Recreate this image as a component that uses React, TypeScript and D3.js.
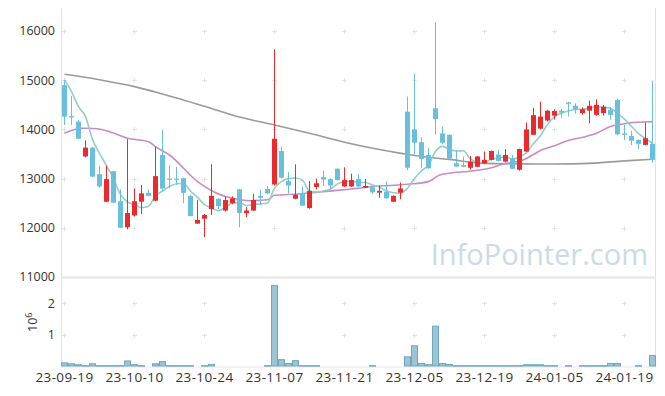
import React from 'react';
import * as d3 from 'd3';

const W = 665;
const H = 396;

const opens = [14900,14270,14160,13450,13630,13090,12530,13150,12540,12010,12250,12530,12710,12550,13480,13000,13000,13010,12650,12085,12185,12380,12590,12350,12500,12780,12295,12350,12650,12790,12880,13560,12950,12590,12690,12400,12830,13030,12990,13200,12840,12840,12990,12815,12820,12715,12735,12530,12715,14360,14000,13740,13480,14430,13920,13890,13310,13275,13220,13240,13310,13380,13490,13345,13410,13180,13550,13890,14015,14180,14280,14380,14550,14480,14330,14380,14295,14330,14395,14600,13920,13865,13785,13685,13705];
const highs = [15000,14680,14190,13780,13640,13260,13260,13160,12780,13800,12800,12870,12780,13650,13990,13270,13240,13020,12660,12565,12280,13290,12600,12630,12640,12790,12420,12690,12770,12850,15630,13650,13130,13290,12840,12950,13000,13160,13010,13210,13230,13100,13090,12990,12840,12860,12940,12660,12920,14670,15140,13840,13620,16180,14060,13900,13580,13450,13460,13460,13550,13570,13580,13600,13480,13610,14140,14440,14560,14400,14410,14410,14560,14530,14450,14585,14610,14500,14460,14620,14090,13975,13800,14140,14990];
const lows = [14090,14090,13800,13430,13030,12815,12520,12500,12000,11970,12230,12280,12640,12540,12730,12800,12870,12500,12230,12080,11810,12260,12380,12330,12480,12010,12215,12340,12460,12680,12860,13000,12700,12580,12440,12390,12780,12850,12780,12960,12830,12830,12830,12810,12690,12610,12590,12520,12580,13170,13480,13210,13200,13900,13700,13400,13240,13230,13180,13230,13300,13370,13350,13330,13190,13160,13540,13880,14000,14160,14200,14240,14260,14320,14300,14125,14280,14280,14200,13880,13785,13680,13600,13680,13320];
const closes = [14260,14243,13810,13630,13040,12840,12990,12510,12000,12300,12540,12700,12650,13050,12800,12990,12985,12710,12240,12160,12260,12650,12440,12565,12600,12300,12350,12565,12610,12700,13810,13020,12860,12670,12450,12750,12905,12980,12860,12970,12970,12970,12840,12850,12720,12750,12600,12650,12800,13220,13730,13400,13210,14210,13730,13410,13245,13240,13345,13450,13380,13560,13360,13480,13200,13600,14000,14290,14260,14380,14375,14340,14520,14410,14410,14480,14500,14460,14295,13900,13890,13770,13705,13820,13380];
const volumes = [100000,70000,40000,10000,70000,10000,10000,10000,10000,160000,40000,10000,0,70000,140000,10000,10000,10000,10000,0,10000,50000,0,0,0,0,0,0,0,10000,2550000,200000,80000,170000,10000,10000,10000,0,0,0,0,0,0,0,10000,0,0,0,0,290000,640000,80000,40000,1260000,80000,50000,10000,10000,10000,10000,10000,10000,10000,10000,10000,10000,40000,40000,40000,10000,10000,0,10000,0,10000,10000,10000,10000,80000,80000,0,0,10000,0,330000];

// closes before the first visible session (for the 5-day average)
const prevCloses = [15430, 15340, 14650, 15350];

// 20-day average (session index, value)
const ma20Idx = [0,2.5,3.5,6,9,12,13,15,19,21.5,24,26.5,29,30,33.5,38.5,42,44,49,52,53.6,58.4,61,62.2,65.5,68.4,70.3,72.2,74.1,76,77.9,79.8,81.7,84];
const ma20Val = [13921,14023,14023,13974,13820,13751,13650,13480,12938,12718,12600,12551,12570,12660,12687,12755,12803,12836,12884,12938,13074,13161,13220,13277,13379,13596,13684,13785,13840,13921,14056,14110,14145,14157];

// long-period average
const maLongIdx = [0,5,10,14,20,25,30,35,40,45,50,55,60,65,70,75,80,84];
const maLongVal = [15121,15010,14869,14720,14470,14250,14090,13920,13740,13590,13470,13390,13310,13300,13297,13310,13360,13393];

const xTickIdx = [0,10,20,30,40,50,60,70,80];
const xTickLabels = ['23-09-19','23-10-10','23-10-24','23-11-07','23-11-21','23-12-05','23-12-19','24-01-05','24-01-19'];
const priceTicks = [11000,12000,13000,14000,15000,16000];
const volTicks = [1,2];

const UP = '#ec2a2e';
const DOWN = '#68c0dc';
const FONT = "'Open Sans', 'Noto Sans', sans-serif";

export default function App() {
  const n = closes.length;
  const x = d3.scaleLinear().domain([-0.5, n - 0.5]).range([61, 656]);
  const y = d3.scaleLinear().domain([11000, 16000]).range([277, 31]);
  const yv = d3.scaleLinear().domain([0, 2e6]).range([366.5, 303.3]);

  const all = prevCloses.concat(closes);
  const ma5 = closes.map((_, i) => [i, d3.mean(all.slice(i, i + 5)) as number]);
  const ma20 = ma20Idx.map((d, i) => [d, ma20Val[i]]);
  const maLong = maLongIdx.map((d, i) => [d, maLongVal[i]]);

  const line = d3.line<number[]>().x(d => x(d[0])).y(d => y(d[1])).curve(d3.curveMonotoneX);

  const crossX = xTickIdx.map(i => x(i));
  const crossY = priceTicks.filter(t => t > 11000).map(t => y(t)).concat(volTicks.map(t => yv(t * 1e6)));

  return (
    <svg width={W} height={H} style={{ position: 'absolute', left: 0, top: 0, background: '#fff' }} fontFamily={FONT}>
      <rect x={0} y={0} width={W} height={H} fill="#fff" />
      {/* cross marks */}
      {crossX.map(cx => crossY.map(cy => (
        <g key={`c${cx}-${cy}`} stroke="#e2e2e2" strokeWidth={1}>
          <line x1={cx - 2.5} x2={cx + 2.5} y1={Math.round(cy) + 0.5} y2={Math.round(cy) + 0.5} />
          <line x1={cx} x2={cx} y1={Math.round(cy) - 2} y2={Math.round(cy) + 3} />
        </g>
      )))}
      {/* frame */}
      <line x1={61.5} x2={61.5} y1={8} y2={367} stroke="#e2e2e2" />
      <line x1={655.5} x2={655.5} y1={8} y2={367} stroke="#e2e2e2" />
      <line x1={61} x2={656} y1={277.5} y2={277.5} stroke="#e6e6e6" strokeWidth={2} />
      <line x1={61} x2={656} y1={367} y2={367} stroke="#e8e8e8" strokeWidth={1} />

      {/* watermark */}
      <text x={648} y={265} textAnchor="end" fontSize={29} fill="#c9dce6" fontFamily={FONT}>InfoPointer.com</text>

      {/* moving averages */}
      <path d={line(maLong) || ''} fill="none" stroke="#9a9a9a" strokeWidth={1.6} />
      <path d={line(ma20) || ''} fill="none" stroke="#c98bc6" strokeWidth={1.6} />
      <path d={line(ma5 as number[][]) || ''} fill="none" stroke="#93cfc7" strokeWidth={1.6} />

      {/* candles */}
      {closes.map((c, i) => {
        const o = opens[i];
        const up = c >= o;
        const col = up ? UP : DOWN;
        const cx = x(i);
        const top = y(Math.max(o, c));
        const bot = y(Math.min(o, c));
        return (
          <g key={`k${i}`}>
            <line x1={cx} x2={cx} y1={y(highs[i])} y2={y(lows[i])} stroke={col} strokeWidth={1} />
            <rect x={cx - 2.5} y={top} width={5} height={Math.max(1.2, bot - top)} fill={col} />
          </g>
        );
      })}

      {/* volume */}
      {volumes.map((v, i) => v > 0 ? (
        <rect key={`v${i}`} x={x(i) - 3} y={yv(v) - 0.5} width={6} height={Math.max(0.5, yv(0) - yv(v))}
          fill="#9cc4d4" stroke="#6ea7c0" strokeWidth={1} />
      ) : null)}

      {/* price axis labels */}
      {priceTicks.map(t => (
        <text key={`p${t}`} x={55} y={y(t)} dy="0.35em" textAnchor="end" fontSize={12.5} fill="#333">{t}</text>
      ))}
      {volTicks.map(t => (
        <text key={`vt${t}`} x={55} y={yv(t * 1e6)} dy="0.35em" textAnchor="end" fontSize={12.5} fill="#333">{t}</text>
      ))}
      <g transform="translate(37,332) rotate(-90)">
        <text x={0} y={0} fontSize={12.5} fill="#333">10<tspan dy={-5} fontSize={9}>6</tspan></text>
      </g>

      {/* date labels */}
      {xTickIdx.map((t, k) => (
        <text key={`d${t}`} x={x(t)} y={382} textAnchor="middle" fontSize={13.5} letterSpacing={0.4} fill="#333">{xTickLabels[k]}</text>
      ))}
    </svg>
  );
}
